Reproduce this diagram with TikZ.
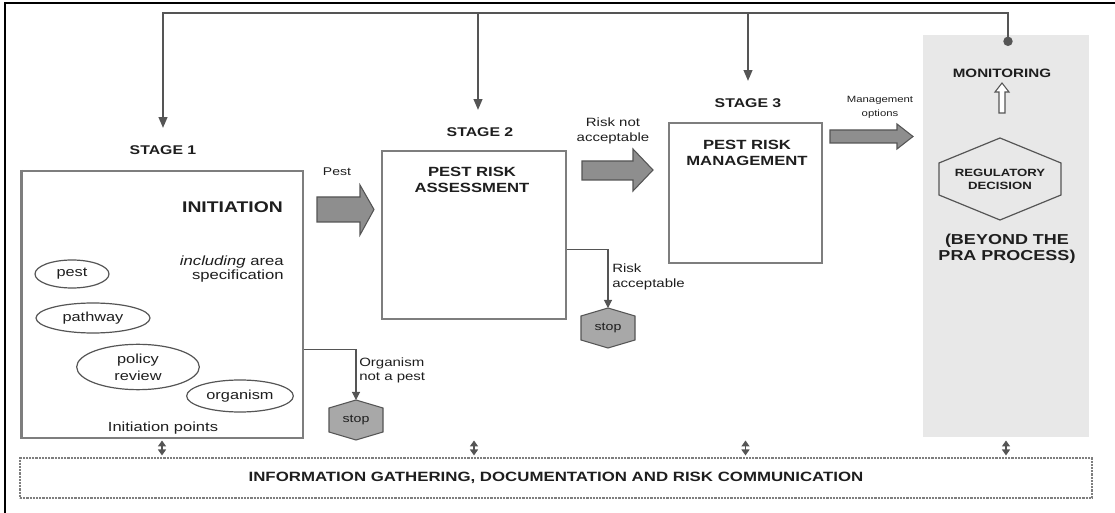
\documentclass[tikz,border=0pt]{standalone}
\usepackage{fontspec}
\setmainfont[FakeStretch=1.25]{Liberation Sans}
\usetikzlibrary{arrows.meta,calc,shapes.geometric}
\definecolor{txt}{HTML}{1E1E1E}
\definecolor{boxc}{HTML}{7E7E7E}
\definecolor{linec}{HTML}{555555}
\definecolor{arrfill}{HTML}{8E8E8E}
\definecolor{hexfill}{HTML}{A8A8A8}
\definecolor{bandc}{HTML}{E8E8E8}
\newcommand{\fs}[2]{\fontsize{#1}{#2}\selectfont}
\begin{document}
\begin{tikzpicture}[x=0.75pt,y=-0.75pt,
  stagebox/.style={draw=boxc,line width=1.5pt,fill=white,inner sep=0pt},
  stagelbl/.style={font=\bfseries\fs{9.5}{11},text=txt,inner sep=0pt},
  boxtitle/.style={font=\bfseries\fs{10}{11.5},text=txt,align=center,inner sep=0pt},
  note/.style={font=\fs{9}{11},text=txt,align=left,inner sep=0pt},
  oval/.style={ellipse,draw=linec,line width=0.9pt,inner sep=0pt,font=\fs{9.8}{11},text=txt,align=center},
  blockarrow/.style={fill=arrfill,draw=linec,line width=0.8pt,line join=miter},
  stophex/.style={fill=hexfill,draw=linec,line width=0.8pt},
  stoptext/.style={font=\fs{8.5}{10},text=txt,inner sep=0pt},
  conn/.style={draw=linec,line width=0.8pt,-{Triangle[width=6pt,length=6pt]}},
  fb/.style={draw=linec,line width=1.1pt,-{Triangle[width=6.5pt,length=8pt]}},
  dbl/.style={draw=linec,line width=1pt,{Triangle[width=6pt,length=4.5pt]}-{Triangle[width=6pt,length=4.5pt]}}
]
\useasboundingbox (0,0) rectangle (1115,513);
% outer frame
\draw[black,line width=1.6pt] (5,513) -- (5,3) -- (1115,3);

% region beyond the PRA process
\node[fill=bandc,minimum width=124.5pt,minimum height=301.5pt,inner sep=0pt] (monitor) at (1006,236) {};

% stage boxes
\node[stagebox,minimum width=211.5pt,minimum height=200.25pt] (init) at (162,304.5) {};
\draw[boxc,line width=1.5pt] ([xshift=1.8pt]init.north west) -- ([xshift=1.8pt]init.south west);
\node[stagebox,minimum width=138pt,minimum height=126pt] (pra) at (474,235) {};
\node[stagebox,minimum width=114.75pt,minimum height=105pt] (prm) at (745.5,193) {};

% stage labels
\node[stagelbl] (s1) at (163,150) {STAGE 1};
\node[stagelbl] (s2) at (480,132) {STAGE 2};
\node[stagelbl] (s3) at (748,103) {STAGE 3};

% texts inside the boxes
\node[font=\bfseries\fs{11.6}{13},text=txt,inner sep=0pt,anchor=east] (inittitle) at (283,207) {INITIATION};
\node[font=\fs{10}{10.5},text=txt,align=right,inner sep=0pt,anchor=east] (area) at (284,269) {\textit{including} area\\specification};
\node[boxtitle] (pratitle) at (472,180) {PEST RISK\\ASSESSMENT};
\node[boxtitle] (prmtitle) at (747,153) {PEST RISK\\MANAGEMENT};
\node[font=\fs{9.9}{11},text=txt,inner sep=0pt] (ipoints) at (163,428) {Initiation points};

% initiation points
\node[oval,minimum width=55.5pt,minimum height=21pt] (pest) at (72,274) {pest};
\node[oval,minimum width=85.5pt,minimum height=22.5pt] (pathway) at (93,318) {pathway};
\node[oval,minimum width=92pt,minimum height=34pt,font=\fs{9.8}{13}] (policy) at (138,367) {policy\\review};
\node[oval,minimum width=80pt,minimum height=24pt] (organism) at (240,396) {organism};

% block arrows between the stages
\draw[blockarrow] (317,197) -- (360,197) -- (360,185) -- (374,209.5) -- (360,235) -- (360,222) -- (317,222) -- cycle;
\node[font=\fs{8.4}{10},text=txt,inner sep=0pt] (pestlbl) at (337,172) {Pest};
\draw[blockarrow] (582,161) -- (633,161) -- (633,149) -- (653,170) -- (633,191) -- (633,180) -- (582,180) -- cycle;
\node[note,align=center] (rnalbl) at (613,131) {Risk not\\acceptable};
\draw[blockarrow] (830,130) -- (897,130) -- (897,124) -- (913,136.5) -- (897,149) -- (897,143) -- (830,143) -- cycle;
\node[note,align=center,font=\fs{6.8}{10.5}] (mglbl) at (880,107) {Management\\options};

% stop exits
\coordinate (stopAc) at (356,420);
\draw[stophex] (stopAc) +(0,-20) -- +(27,-12) -- +(27,12) -- +(0,20) -- +(-27,12) -- +(-27,-12) -- cycle;
\node[stoptext] (stopA) at (stopAc) {stop};
\coordinate (stopAtop) at ($(stopAc)+(0,-20)$);
\draw[conn] ([yshift=-34pt]init.east) -| (stopAtop);
\node[note,anchor=west] (orglbl) at (359,370.5) {Organism\\not a pest};

\coordinate (stopBc) at (608,328);
\draw[stophex] (stopBc) +(0,-20) -- +(27,-12) -- +(27,12) -- +(0,20) -- +(-27,12) -- +(-27,-12) -- cycle;
\node[stoptext] (stopB) at (stopBc) {stop};
\coordinate (stopBtop) at ($(stopBc)+(0,-20)$);
\draw[conn] ([yshift=-11pt]pra.east) -| (stopBtop);
\node[note,anchor=west] (ralbl) at (612,277) {Risk\\acceptable};

% regulatory decision and monitoring
\coordinate (regc) at (1000,179);
\draw[draw=linec,line width=0.9pt] (regc) +(0,-41) -- +(61,-16) -- +(61,16) -- +(0,41) -- +(-61,16) -- +(-61,-16) -- cycle;
\node[font=\bfseries\fs{7.9}{9.75},text=txt,align=center,inner sep=0pt] (reg) at (regc) {REGULATORY\\DECISION};
\node[font=\bfseries\fs{9.1}{11},text=txt,inner sep=0pt] (mon) at (1002,73) {MONITORING};
\draw[fill=white,draw=linec,line width=0.8pt] (999,113) -- (999,92) -- (995,92) -- (1002,83) -- (1009,92) -- (1005,92) -- (1005,113) -- cycle;
\node[font=\bfseries\fs{10.8}{12},text=txt,align=center,inner sep=0pt] (beyond) at (1007,249) {(BEYOND THE\\PRA PROCESS)};

% feedback from monitoring to every stage
\coordinate (dot) at (1008,46);
\coordinate (rail) at (0,13);
\draw[draw=linec,line width=1.1pt,{Circle[length=7pt]}-{Triangle[width=6.5pt,length=8pt]}] (dot) |- (s1.north |- rail) -- ([yshift=13pt]s1.north);
\draw[fb] (478,13) -- ([yshift=13pt]s2.north -| 478,0);
\draw[fb] (s3.north |- rail) -- ([yshift=13pt]s3.north);

% information gathering band
\node[draw=boxc,dash pattern=on 1.6pt off 0.8pt,line width=0.8pt,minimum width=804pt,minimum height=30pt,inner sep=0pt,
      font=\bfseries\fs{10.1}{11},text=txt] (info) at (556,478) {INFORMATION GATHERING, DOCUMENTATION AND RISK COMMUNICATION};
\foreach \n in {init,pra,prm,monitor}{
  \draw[dbl] ($(\n.south |- info.north)+(0,-17)$) -- ($(\n.south |- info.north)+(0,-2)$);
}
\end{tikzpicture}
\end{document}
